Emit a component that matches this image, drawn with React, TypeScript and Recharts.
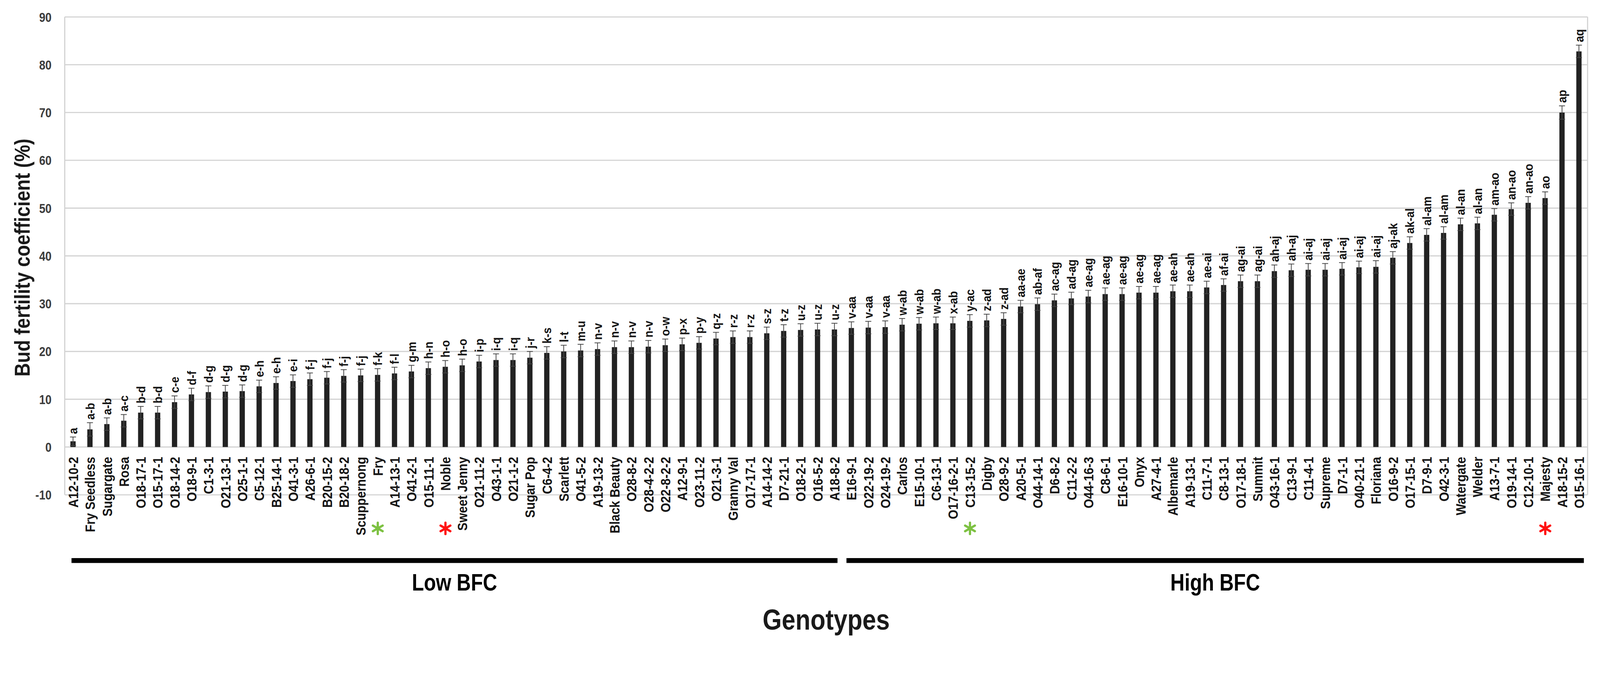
import React from 'react';
import { BarChart, Bar, XAxis, YAxis, CartesianGrid, ErrorBar, LabelList } from 'recharts';

const genotypes = [
  'A12-10-2', 'Fry Seedless', 'Sugargate', 'Rosa', 'O18-17-1', 'O15-17-1', 'O18-14-2', 'O18-9-1', 'C1-3-1', 'O21-13-1',
  'O25-1-1', 'C5-12-1', 'B25-14-1', 'O41-3-1', 'A26-6-1', 'B20-15-2', 'B20-18-2', 'Scuppernong', 'Fry', 'A14-13-1',
  'O41-2-1', 'O15-11-1', 'Noble', 'Sweet Jenny', 'O21-11-2', 'O43-1-1', 'O21-1-2', 'Sugar Pop', 'C6-4-2', 'Scarlett',
  'O41-5-2', 'A19-13-2', 'Black Beauty', 'O28-8-2', 'O28-4-2-2', 'O22-8-2-2', 'A12-9-1', 'O23-11-2', 'O21-3-1', 'Granny Val',
  'O17-17-1', 'A14-14-2', 'D7-21-1', 'O18-2-1', 'O16-5-2', 'A18-8-2', 'E16-9-1', 'O22-19-2', 'O24-19-2', 'Carlos',
  'E15-10-1', 'C6-13-1', 'O17-16-2-1', 'C13-15-2', 'Digby', 'O28-9-2', 'A20-5-1', 'O44-14-1', 'D6-8-2', 'C11-2-2',
  'O44-16-3', 'C8-6-1', 'E16-10-1', 'Onyx', 'A27-4-1', 'Albemarle', 'A19-13-1', 'C11-7-1', 'C8-13-1', 'O17-18-1',
  'Summit', 'O43-16-1', 'C13-9-1', 'C11-4-1', 'Supreme', 'D7-1-1', 'O40-21-1', 'Floriana', 'O16-9-2', 'O17-15-1',
  'D7-9-1', 'O42-3-1', 'Watergate', 'Welder', 'A13-7-1', 'O19-14-1', 'C12-10-1', 'Majesty', 'A18-15-2', 'O15-16-1',
];

const bfc = [
  1.2, 3.7, 4.8, 5.5, 7.2, 7.2, 9.4, 11.0, 11.5, 11.6,
  11.7, 12.7, 13.4, 13.8, 14.2, 14.5, 14.9, 15.0, 15.1, 15.4,
  15.8, 16.5, 16.8, 17.1, 17.9, 18.2, 18.2, 18.7, 19.7, 20.0,
  20.2, 20.5, 20.9, 20.9, 21.0, 21.3, 21.5, 21.8, 22.7, 23.0,
  23.0, 23.8, 24.3, 24.5, 24.6, 24.6, 24.9, 25.0, 25.1, 25.6,
  25.8, 25.9, 25.9, 26.4, 26.5, 26.8, 29.4, 29.9, 30.7, 31.1,
  31.5, 32.0, 32.0, 32.3, 32.3, 32.6, 32.6, 33.4, 33.9, 34.7,
  34.7, 36.8, 37.0, 37.1, 37.1, 37.3, 37.6, 37.7, 39.6, 42.7,
  44.4, 44.8, 46.6, 46.8, 48.6, 49.8, 51.1, 52.1, 70.0, 82.8,
];

const sem = [
  0.9, 1.4, 1.3, 1.3, 1.3, 1.3, 1.3, 1.3, 1.3, 1.3,
  1.3, 1.3, 1.3, 1.3, 1.3, 1.3, 1.3, 1.3, 1.3, 1.3,
  1.3, 1.3, 1.3, 1.3, 1.3, 1.3, 1.3, 1.3, 1.3, 1.3,
  1.3, 1.3, 1.3, 1.3, 1.3, 1.3, 1.3, 1.3, 1.3, 1.3,
  1.3, 1.3, 1.3, 1.3, 1.3, 1.3, 1.3, 1.3, 1.3, 1.3,
  1.3, 1.3, 1.3, 1.3, 1.3, 1.3, 1.3, 1.3, 1.3, 1.3,
  1.3, 1.3, 1.3, 1.3, 1.3, 1.3, 1.3, 1.3, 1.3, 1.3,
  1.3, 1.3, 1.3, 1.3, 1.3, 1.3, 1.3, 1.3, 1.3, 1.3,
  1.3, 1.3, 1.3, 1.3, 1.3, 1.3, 1.3, 1.3, 1.4, 1.3,
];

const letters = [
  'a', 'a-b', 'a-b', 'a-c', 'b-d', 'b-d', 'c-e', 'd-f', 'd-g', 'd-g',
  'd-g', 'e-h', 'e-h', 'e-i', 'f-j', 'f-j', 'f-j', 'f-j', 'f-k', 'f-l',
  'g-m', 'h-n', 'h-o', 'h-o', 'i-p', 'i-q', 'i-q', 'j-r', 'k-s', 'l-t',
  'm-u', 'n-v', 'n-v', 'n-v', 'n-v', 'o-w', 'p-x', 'p-y', 'q-z', 'r-z',
  'r-z', 's-z', 't-z', 'u-z', 'u-z', 'u-z', 'v-aa', 'v-aa', 'v-aa', 'w-ab',
  'w-ab', 'w-ab', 'x-ab', 'y-ac', 'z-ad', 'z-ad', 'aa-ae', 'ab-af', 'ac-ag', 'ad-ag',
  'ae-ag', 'ae-ag', 'ae-ag', 'ae-ag', 'ae-ag', 'ae-ah', 'ae-ah', 'ae-ai', 'af-ai', 'ag-ai',
  'ag-ai', 'ah-aj', 'ah-aj', 'ai-aj', 'ai-aj', 'ai-aj', 'ai-aj', 'ai-aj', 'aj-ak', 'ak-al',
  'al-am', 'al-am', 'al-an', 'al-an', 'am-ao', 'an-ao', 'an-ao', 'ao', 'ap', 'aq',
];

const yTicks = [-10, 0, 10, 20, 30, 40, 50, 60, 70, 80, 90];

const groups = [
  { label: 'Low BFC', count: 46 },
  { label: 'High BFC', count: 44 },
];

const markers = [
  { name: 'Fry', color: '#7dc142' },
  { name: 'Noble', color: '#ff1010' },
  { name: 'C13-15-2', color: '#7dc142' },
  { name: 'Majesty', color: '#ff1010' },
];

const yTitle = 'Bud fertility coefficient (%)';
const xTitle = 'Genotypes';

// ---- layout ----
const W = 4251;
const H = 1722;
const M = { top: 45, right: 33, bottom: 8, left: 0 };
const Y_AXIS_W = 172;
const X_AXIS_H = 400;
const PLOT_LEFT = M.left + Y_AXIS_W;
const PLOT_RIGHT = W - M.right;
const PLOT_TOP = M.top;
const PLOT_BOTTOM = H - M.bottom - X_AXIS_H;
const PLOT_W = PLOT_RIGHT - PLOT_LEFT;
const PLOT_H = PLOT_BOTTOM - PLOT_TOP;
const Y_MIN = -10;
const Y_MAX = 90;
const UNIT = PLOT_H / (Y_MAX - Y_MIN);
const ZERO_Y = PLOT_TOP + Y_MAX * UNIT;
const BAND = PLOT_W / genotypes.length;
const FONT = "'Liberation Sans', Arial, Helvetica, sans-serif";
const GRID = '#d2d2d2';

const data = genotypes.map((name, i) => ({ name, bfc: bfc[i], sem: sem[i], idx: i }));

const Asterisk = ({ cx, cy, color }: { cx: number; cy: number; color: string }) => {
  const r = 15;
  const angles = [90, 30, 150];
  return (
    <g>
      {angles.map((a) => {
        const dx = r * Math.cos((a * Math.PI) / 180);
        const dy = r * Math.sin((a * Math.PI) / 180);
        return (
          <line key={a} x1={cx - dx} y1={cy - dy} x2={cx + dx} y2={cy + dy} stroke={color} strokeWidth={6} strokeLinecap="round" />
        );
      })}
    </g>
  );
};

const XTick = (props: any) => {
  const { x, payload } = props;
  const name = payload.value as string;
  const mk = markers.find((m) => m.name === name);
  return (
    <g>
      <text
        transform={`translate(${x},${ZERO_Y + 26}) rotate(-90) scale(0.9,1)`}
        textAnchor="end"
        dy="0.36em"
        fontSize={36}
        fontWeight="bold"
        fontFamily={FONT}
        fill="#151515"
      >
        {name}
      </text>
      {mk && <Asterisk cx={x} cy={ZERO_Y + 216} color={mk.color} />}
    </g>
  );
};

const YTick = (props: any) => {
  const { x, y, payload } = props;
  return (
    <text
      transform={`translate(${x},${y}) scale(0.85,1)`}
      textAnchor="end"
      dy="0.36em"
      fontSize={35}
      fontWeight="bold"
      fontFamily={FONT}
      fill="#3c3c3c"
    >
      {payload.value}
    </text>
  );
};

const LetterLabel = (props: any) => {
  const { x, y, width, value } = props;
  const i = Number(value);
  const cx = Number(x) + Number(width) / 2;
  const top = Number(y) - sem[i] * UNIT - 8;
  return (
    <text
      transform={`translate(${cx},${top}) rotate(-90) scale(0.9,1)`}
      textAnchor="start"
      dy="0.36em"
      fontSize={33}
      fontWeight="bold"
      fontFamily={FONT}
      fill="#151515"
    >
      {letters[i]}
    </text>
  );
};

const Overlay = () => {
  let start = 0;
  const segs = groups.map((g, gi) => {
    const x1 = PLOT_LEFT + (start + (gi === 0 ? 0.4 : 0.2)) * BAND;
    const x2 = PLOT_LEFT + (start + g.count - (gi === groups.length - 1 ? 0.22 : 0.33)) * BAND;
    start += g.count;
    return { ...g, x1, x2 };
  });
  return (
    <svg width={W} height={H} style={{ position: 'absolute', left: 0, top: 0, pointerEvents: 'none' }}>
      <line x1={PLOT_LEFT} y1={PLOT_TOP} x2={PLOT_LEFT} y2={PLOT_BOTTOM} stroke={GRID} strokeWidth={3} />
      <line x1={PLOT_RIGHT} y1={PLOT_TOP} x2={PLOT_RIGHT} y2={PLOT_BOTTOM} stroke={GRID} strokeWidth={3} />
      {segs.map((s) => (
        <g key={s.label}>
          <rect x={s.x1} y={1482} width={s.x2 - s.x1} height={13} fill="#000" />
          <text
            transform={`translate(${(s.x1 + s.x2) / 2},1568) scale(0.83,1)`}
            textAnchor="middle"
            fontSize={63}
            fontWeight="bold"
            fontFamily={FONT}
            fill="#000"
          >
            {s.label}
          </text>
        </g>
      ))}
      <text
        transform={`translate(58,684) rotate(-90) scale(0.86,1)`}
        textAnchor="middle"
        dy="0.36em"
        fontSize={58}
        fontWeight="bold"
        fontFamily={FONT}
        fill="#1a1a1a"
      >
        {yTitle}
      </text>
      <text
        transform={`translate(${(PLOT_LEFT + PLOT_RIGHT) / 2},1672) scale(0.86,1)`}
        textAnchor="middle"
        fontSize={76}
        fontWeight="bold"
        fontFamily={FONT}
        fill="#1a1a1a"
      >
        {xTitle}
      </text>
    </svg>
  );
};

function fitScale() {
  if (typeof window === 'undefined') return 1;
  const vw = window.innerWidth || W;
  const vh = window.innerHeight || H;
  return Math.min(1, vw / W, vh / H);
}

export default function App() {
  const [scale, setScale] = React.useState<number>(fitScale);
  React.useLayoutEffect(() => {
    const onResize = () => setScale(fitScale());
    onResize();
    window.addEventListener('resize', onResize);
    return () => window.removeEventListener('resize', onResize);
  }, []);
  return (
    <div style={{ width: W * scale, height: H * scale, overflow: 'hidden', background: '#fff' }}>
      <style>{'html,body{margin:0;padding:0;overflow:hidden;background:#fff}'}</style>
      <div style={{ position: 'relative', width: W, height: H, transform: `scale(${scale})`, transformOrigin: '0 0' }}>
        <BarChart width={W} height={H} data={data} margin={M} barCategoryGap={0}>
          <CartesianGrid vertical={false} stroke={GRID} strokeWidth={3} />
          <XAxis
            dataKey="name"
            interval={0}
            tick={<XTick />}
            tickLine={false}
            axisLine={false}
            height={X_AXIS_H}
          />
          <YAxis
            domain={[Y_MIN, Y_MAX]}
            ticks={yTicks}
            width={Y_AXIS_W}
            tickLine={false}
            axisLine={false}
            tickSize={0}
            tickMargin={35}
            tick={<YTick />}
            allowDataOverflow
          />
          <Bar dataKey="bfc" fill="#222222" barSize={14} isAnimationActive={false}>
            <ErrorBar dataKey="sem" width={8} strokeWidth={2} stroke="#444444" direction="y" isAnimationActive={false} />
            <LabelList dataKey="idx" content={<LetterLabel />} />
          </Bar>
        </BarChart>
        <Overlay />
      </div>
    </div>
  );
}
